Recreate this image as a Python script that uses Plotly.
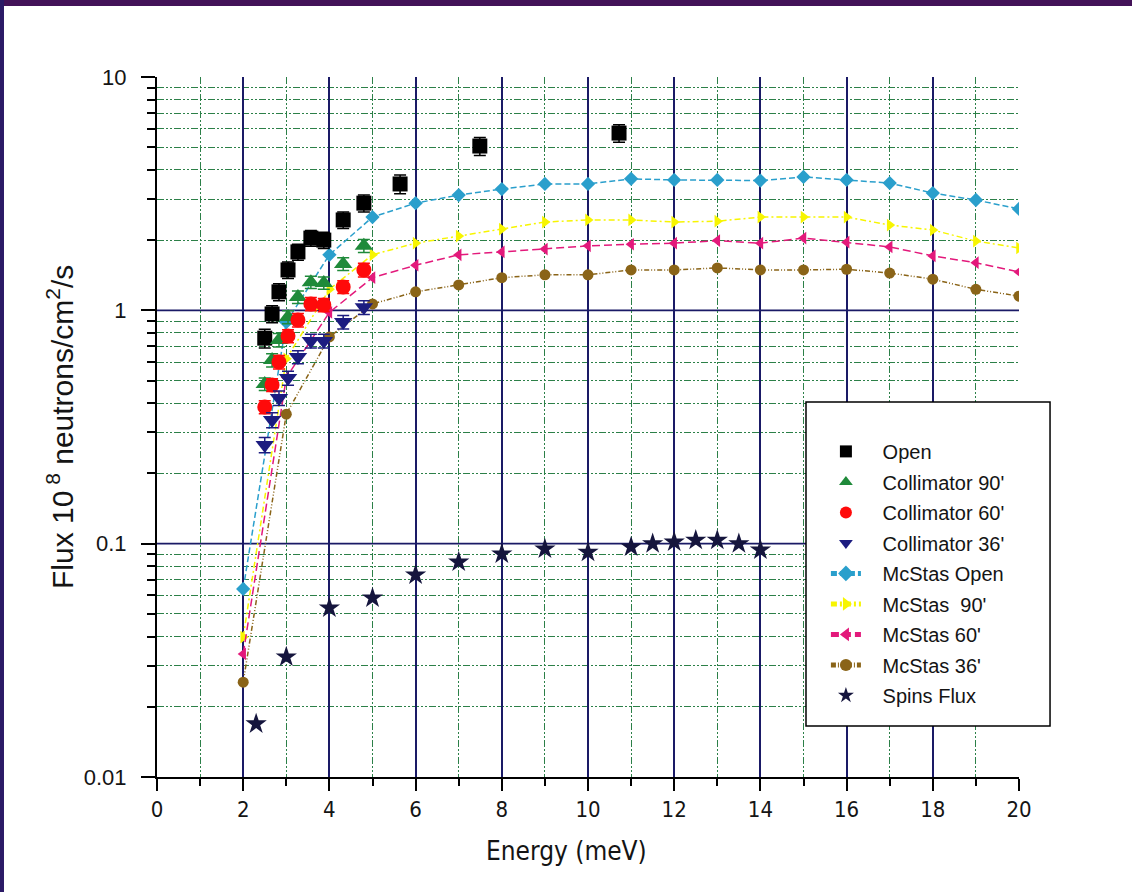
import plotly.graph_objects as go

# ---- measured flux (10^8 n/cm^2/s) vs energy (meV) ----
energy_meas = [2.5, 2.67, 2.83, 3.04, 3.27, 3.57, 3.87, 4.32, 4.8, 5.64, 7.49, 10.72]
flux_open = [0.76, 0.965, 1.2, 1.49, 1.78, 2.04, 2.0, 2.44, 2.88, 3.48, 5.06, 5.75]
err_open = [0.07, 0.08, 0.1, 0.12, 0.14, 0.16, 0.16, 0.2, 0.24, 0.32, 0.45, 0.5]

energy_coll = [2.5, 2.67, 2.83, 3.04, 3.27, 3.57, 3.87, 4.32, 4.8]
flux_c90 = [0.483, 0.612, 0.746, 0.936, 1.14, 1.32, 1.31, 1.58, 1.89]
err_c90 = [0.03, 0.04, 0.05, 0.06, 0.07, 0.08, 0.08, 0.1, 0.12]
flux_c60 = [0.385, 0.479, 0.601, 0.776, 0.909, 1.065, 1.055, 1.26, 1.49]
err_c60 = [0.025, 0.03, 0.04, 0.05, 0.06, 0.07, 0.07, 0.08, 0.1]
flux_c36 = [0.265, 0.339, 0.421, 0.513, 0.631, 0.739, 0.739, 0.891, 1.03]
err_c36 = [0.02, 0.025, 0.03, 0.035, 0.04, 0.05, 0.05, 0.06, 0.07]

# ---- McStas simulations ----
energy_sim = [2, 3, 4, 5, 6, 7, 8, 9, 10, 11, 12, 13, 14, 15, 16, 17, 18, 19, 20]
sim_open = [0.064, 0.89, 1.73, 2.51, 2.88, 3.12, 3.31, 3.48, 3.48, 3.66, 3.62, 3.62,
            3.6, 3.73, 3.62, 3.51, 3.18, 2.97, 2.72]
sim_90 = [0.0398, 0.62, 1.23, 1.73, 1.94, 2.08, 2.23, 2.39, 2.44, 2.44, 2.39, 2.41,
          2.51, 2.51, 2.51, 2.32, 2.21, 1.98, 1.85]
sim_60 = [0.0337, 0.515, 0.98, 1.38, 1.56, 1.73, 1.78, 1.83, 1.89, 1.92, 1.94, 1.99,
          1.94, 2.04, 1.96, 1.87, 1.71, 1.6, 1.46]
sim_36 = [0.0255, 0.359, 0.769, 1.065, 1.2, 1.285, 1.38, 1.42, 1.42, 1.49, 1.49, 1.52,
          1.49, 1.49, 1.5, 1.445, 1.36, 1.23, 1.15]

# ---- Spins flux ----
energy_spins = [2.3, 3, 4, 5, 6, 7, 8, 9, 10, 11, 11.5, 12, 12.5, 13, 13.5, 14]
flux_spins = [0.0169, 0.0327, 0.053, 0.0585, 0.0734, 0.0834, 0.0903, 0.0949, 0.092,
              0.0968, 0.1, 0.1016, 0.1035, 0.1035, 0.1, 0.094]

# ---- axes ----
x_range = [0, 20]
x_ticks = list(range(0, 21, 2))
y_ticks = [0.01, 0.1, 1, 10]
y_ticktext = ["0.01", "0.1", "1", "10"]
y_minor = [m * 10.0 ** k for k in (-2, -1, 0) for m in range(2, 10)]
decade_lines = [0.1, 1]

NAVY = "#1a1a66"
GREEN = "#2c8048"
MINOR_DASH = "7px,2px,2px,2px,2px,2px"
SANS = "Liberation Sans, Arial, sans-serif"
NARROW = "Liberation Sans Narrow, DejaVu Sans Condensed, Arial Narrow, sans-serif"
TEXT = "#141414"

fig = go.Figure()

legend_label = lambda s: "\u00a0\u00a0\u00a0" + s


def meas_trace(name, x, y, err, symbol, color, size):
    return go.Scatter(
        x=x, y=y, mode="markers", name=legend_label(name), legendgroup=name,
        marker=dict(symbol=symbol, color=color, size=size, line=dict(width=0)),
        error_y=dict(type="data", array=err, color=color, thickness=1.5, width=6),
    )


def sim_trace(name, x, y, symbol, color, dash, size):
    return go.Scatter(
        x=x, y=y, mode="lines+markers", name=legend_label(name), legendgroup=name,
        line=dict(color=color, width=1.5, dash=dash),
        marker=dict(symbol=symbol, color=color, size=size, line=dict(width=0)),
    )


fig.add_trace(sim_trace("McStas Open", energy_sim, sim_open, "diamond", "#2a9fcc", "6px,3px", 11))
fig.add_trace(sim_trace("McStas  90'", energy_sim, sim_90, "triangle-right", "#f7f500", "6px,3px,2px,3px", 11))
fig.add_trace(sim_trace("McStas 60'", energy_sim, sim_60, "triangle-left", "#e3197b", "8px,4px", 11))
fig.add_trace(sim_trace("McStas 36'", energy_sim, sim_36, "circle", "#8a6418", "5px,2px,1px,2px,1px,2px", 11))

fig.add_trace(meas_trace("Open", energy_meas, flux_open, err_open, "square", "#000000", 15))
fig.add_trace(meas_trace("Collimator 90'", energy_coll, flux_c90, err_c90, "triangle-up", "#1f8a3a", 16))
fig.add_trace(meas_trace("Collimator 60'", energy_coll, flux_c60, err_c60, "circle", "#ff0a0a", 15))
fig.add_trace(meas_trace("Collimator 36'", energy_coll, flux_c36, err_c36, "triangle-down", "#1c1c80", 16))

fig.add_trace(go.Scatter(
    x=energy_spins, y=flux_spins, mode="markers", name=legend_label("Spins Flux"),
    legendgroup="Spins Flux",
    marker=dict(symbol="star", color="#15153d", size=16, line=dict(width=0)),
))

# legend order: measurements first, then simulations, then Spins
order = {"Open": 1, "Collimator 90'": 2, "Collimator 60'": 3, "Collimator 36'": 4,
         "McStas Open": 5, "McStas  90'": 6, "McStas 60'": 7, "McStas 36'": 8,
         "Spins Flux": 9}
for tr in fig.data:
    tr.legendrank = order[tr.legendgroup]

shapes = []
# decade grid lines
for v in decade_lines:
    shapes.append(dict(type="line", xref="x", yref="y", x0=x_range[0], x1=x_range[1],
                       y0=v, y1=v, line=dict(color=NAVY, width=1.6), layer="below"))
# slide frame strips
shapes.append(dict(type="rect", xref="paper", yref="paper", x0=-0.2, x1=1.15,
                   y0=1.1014, y1=1.13, fillcolor="#431258", line=dict(width=0), layer="below"))
shapes.append(dict(type="rect", xref="paper", yref="paper", x0=-0.2, x1=-0.1775,
                   y0=-0.2, y1=1.13, fillcolor="#2b1a66", line=dict(width=0), layer="below"))
# legend frame
shapes.append(dict(type="rect", xref="paper", yref="paper", x0=0.7529, x1=1.036,
                   y0=0.0729, y1=0.5357, fillcolor="white",
                   line=dict(color="black", width=1.5), layer="above"))

annotations = [
    dict(text="Energy (meV)", xref="paper", yref="paper", x=0.4745, y=-0.106,
         xanchor="center", yanchor="middle", showarrow=False,
         font=dict(family=NARROW, size=26, color=TEXT)),
    dict(text="Flux 10<sup> 8</sup> neutrons/cm<sup>2</sup>/s", xref="paper", yref="paper",
         x=-0.1125, y=0.5, xanchor="center", yanchor="middle", textangle=-90,
         showarrow=False, font=dict(family=SANS, size=30, color=TEXT)),
]

fig.update_layout(
    width=1132, height=892,
    margin=dict(l=157, r=113, t=77, b=115, autoexpand=False),
    paper_bgcolor="white", plot_bgcolor="white",
    shapes=shapes,
    annotations=annotations,
    showlegend=True,
    legend=dict(x=0.776, y=0.493, xanchor="left", yanchor="top",
                bgcolor="rgba(0,0,0,0)", borderwidth=0,
                font=dict(family=SANS, size=20, color=TEXT),
                tracegroupgap=1.5, itemsizing="constant"),
    xaxis=dict(
        range=x_range, tickvals=x_ticks, ticks="outside", ticklen=12, tickwidth=1.5,
        tickcolor="black", showline=True, linecolor="black", linewidth=2,
        showgrid=True, gridcolor=NAVY, gridwidth=1.6, zeroline=False,
        tickfont=dict(family=NARROW, size=22, color=TEXT),
        minor=dict(dtick=1, tick0=0, ticks="outside", ticklen=7, tickwidth=1.5,
                   tickcolor="black", showgrid=True, gridcolor=GREEN, gridwidth=1.2,
                   griddash=MINOR_DASH),
    ),
    yaxis=dict(
        type="log", range=[-2, 1], tickvals=y_ticks, ticktext=y_ticktext,
        ticks="outside", ticklen=14, tickwidth=1.5, tickcolor="black",
        showline=True, linecolor="black", linewidth=2, showgrid=False, zeroline=False,
        ticklabelstandoff=10,
        tickfont=dict(family=SANS, size=22, color=TEXT),
        minor=dict(tickvals=y_minor, ticks="outside", ticklen=8, tickwidth=1.5,
                   tickcolor="black", showgrid=True, gridcolor=GREEN, gridwidth=1.2,
                   griddash=MINOR_DASH),
    ),
)

fig.write_html("out.html")
